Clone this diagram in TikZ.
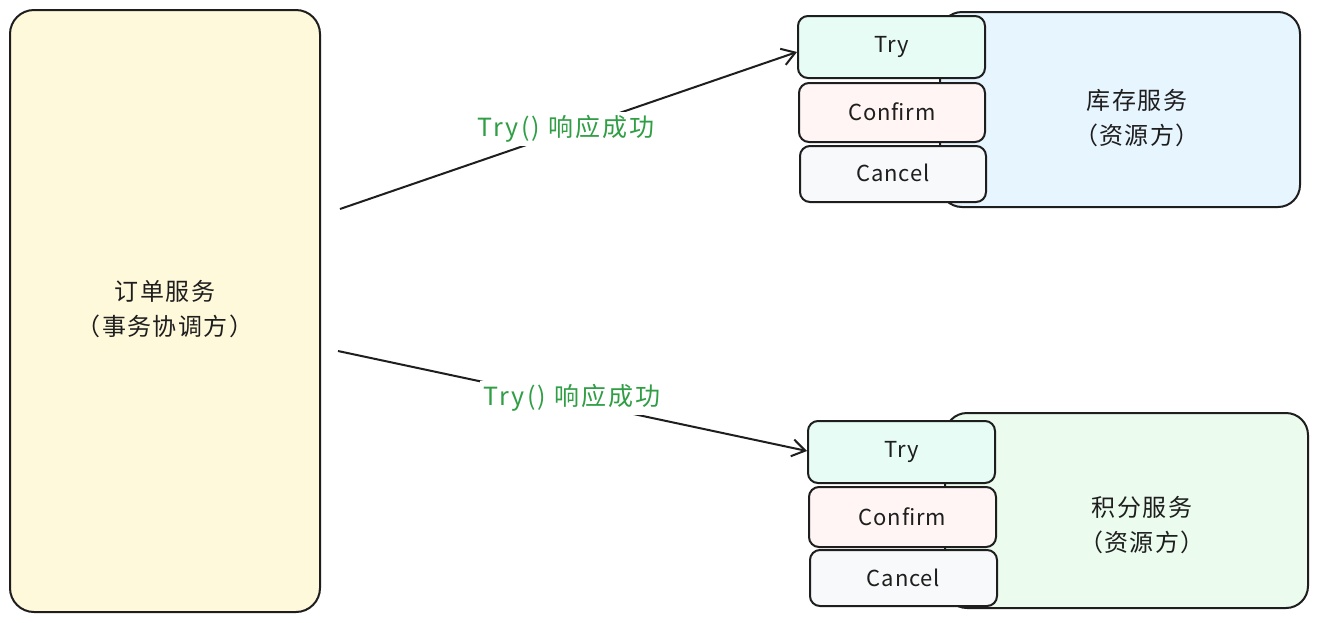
\documentclass[tikz,border=0pt]{standalone}
\usepackage{fontspec}
\setmainfont{Noto Sans CJK SC}
\usetikzlibrary{arrows.meta}
\definecolor{cyellow}{HTML}{FFF9DB}
\definecolor{cblue}{HTML}{E7F5FF}
\definecolor{cgreen}{HTML}{EBFBEE}
\definecolor{ctry}{HTML}{E6FCF5}
\definecolor{cconf}{HTML}{FFF5F5}
\definecolor{ccan}{HTML}{F8F9FA}
\definecolor{cline}{HTML}{1E1E1E}
\definecolor{clabel}{HTML}{2F9E44}
\tikzset{
  box/.style={draw=cline, line width=2pt, rounded corners=#1},
  box/.default=14pt,
  txt/.style={font=\fontsize{24}{35}\selectfont\addfontfeatures{LetterSpace=6}, text=cline, align=center},
  btxt/.style={font=\fontsize{22}{26}\selectfont\addfontfeatures{LetterSpace=4}, text=cline},
  conn/.style={draw=cline, line width=2pt, -{Straight Barb[length=13pt,width=17pt,line width=2pt]}},
  lbl/.style={font=\fontsize{25}{28}\selectfont\addfontfeatures{LetterSpace=9}, text=clabel, fill=white, inner sep=3pt},
}
\begin{document}
\begin{tikzpicture}[x=1pt,y=-1pt]
\useasboundingbox[fill=white] (0,0) rectangle (1317,622);
% left coordinator
\draw[box=24pt, fill=cyellow] (10,10) rectangle (320,612);
\node[txt] (coord) at (165,309) {订单服务\\（事务协调方）};
% top resource
\draw[box=22pt, fill=cblue] (940,12) rectangle (1300,207);
\node[txt] (inv) at (1137,118) {库存服务\\（资源方）};
\draw[box=10pt, fill=ctry] (798,16) rectangle (985,78);
\node[btxt] (try1) at (891.5,47) {Try};
\draw[box=10pt, fill=cconf] (799,83) rectangle (985,142);
\node[btxt] (conf1) at (892,112) {Confirm};
\draw[box=10pt, fill=ccan] (800,146) rectangle (986,202);
\node[btxt] (can1) at (893,173) {Cancel};
% bottom resource
\draw[box=22pt, fill=cgreen] (945,413) rectangle (1308,608);
\node[txt] (pts) at (1142,525) {积分服务\\（资源方）};
\draw[box=10pt, fill=ctry] (808,421) rectangle (995,483);
\node[btxt] (try2) at (901.5,452) {Try};
\draw[box=10pt, fill=cconf] (809,487) rectangle (996,547);
\node[btxt] (conf2) at (902.5,517) {Confirm};
\draw[box=10pt, fill=ccan] (810,550) rectangle (997,606);
\node[btxt] (can2) at (903.5,578) {Cancel};
% connectors
\coordinate (s1) at (340,209);
\coordinate (e1) at (797,52);
\coordinate (s2) at (338,351);
\coordinate (e2) at (807,451);
\draw[conn] (s1) -- (e1);
\draw[conn] (s2) -- (e2);
\node[lbl] (l1) at (566,129) {Try() 响应成功};
\node[lbl] (l2) at (572,398) {Try() 响应成功};
\end{tikzpicture}
\end{document}
